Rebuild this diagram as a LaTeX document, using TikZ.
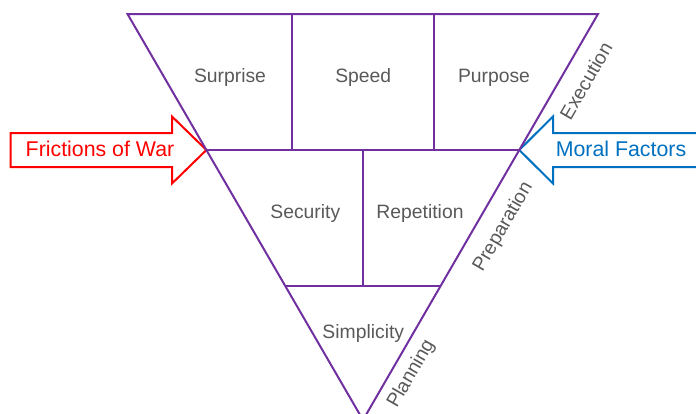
\documentclass[tikz,border=0pt]{standalone}
\usepackage{fontspec}
\setmainfont{Liberation Sans}
\definecolor{tripurple}{RGB}{112,48,160}
\definecolor{lblgrey}{RGB}{89,89,89}
\definecolor{frred}{RGB}{255,0,0}
\definecolor{mfblue}{RGB}{0,112,192}
\begin{document}
\begin{tikzpicture}[x=0.75pt,y=-0.75pt,
  edge/.style={draw=tripurple,line width=1.5pt},
  cell/.style={text=lblgrey,font=\fontsize{14.5}{17}\selectfont,anchor=base,inner sep=0pt},
  phase/.style={cell,rotate=60},
  bigarrow/.style={line width=1.5pt,fill=white,line join=miter},
  arrowlabel/.style={font=\fontsize{16}{19}\selectfont,anchor=base,inner sep=0pt}]
\useasboundingbox (0,0) rectangle (696,414);
% triangle corners and division points
\coordinate (TL) at (127.5,14);
\coordinate (TR) at (598,14);
\coordinate (A) at (363,420);
\coordinate (ML) at (206.4,150);
\coordinate (MR) at (519.3,150);
\coordinate (LL) at (285.3,286);
\coordinate (LR) at (440.6,286);
\coordinate (V1t) at (292,14);
\coordinate (V1b) at (292,150);
\coordinate (V2t) at (433.5,14);
\coordinate (V2b) at (433.5,150);
\coordinate (V3t) at (363,150);
\coordinate (V3b) at (363,286);
% arrows
\draw[bigarrow,draw=frred] (10.7,133) -- (172,133) -- (172,116.5) -- (ML) -- (172,183.5) -- (172,167) -- (10.7,167) -- cycle;
\draw[bigarrow,draw=mfblue] (702,133) -- (553,133) -- (553,116.5) -- (MR) -- (553,183.5) -- (553,167) -- (702,167);
% triangle
\draw[edge] (TL) -- (TR) -- (A) -- cycle;
\draw[edge] (ML) -- (MR);
\draw[edge] (LL) -- (LR);
\draw[edge] (V1t) -- (V1b);
\draw[edge] (V2t) -- (V2b);
\draw[edge] (V3t) -- (V3b);
% cell labels
\node[cell] (surprise) at (230,82.3) {Surprise};
\node[cell] (speed) at (363.3,82.3) {Speed};
\node[cell] (purpose) at (494,82.5) {Purpose};
\node[cell] (security) at (305.3,218.3) {Security};
\node[cell] (repetition) at (420,218.3) {Repetition};
\node[cell] (simplicity) at (363.3,338.3) {Simplicity};
% phase labels
\node[phase] (execution) at (591.9,84.4) {Execution};
\node[phase] (preparation) at (507.7,229.7) {Preparation};
\node[phase] (planning) at (415.8,376.4) {Planning};
% arrow labels
\node[arrowlabel,text=frred] (friction) at (100,156.7) {Frictions of War};
\node[arrowlabel,text=mfblue] (moral) at (621,156) {Moral Factors};
\end{tikzpicture}
\end{document}
